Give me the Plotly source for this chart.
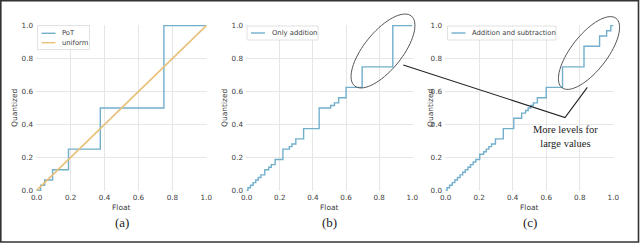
import math
import plotly.graph_objects as go

# ---- data ----
pot_x = [0, 0.0234, 0.0469, 0.0938, 0.1875, 0.375, 0.75, 1.0]
pot_y = [0, 0.03125, 0.0625, 0.125, 0.25, 0.5, 1.0, 1.0]
uni_x = [0, 1.0]
uni_y = [0, 1.0]

add_x = [0, 0.0078, 0.0234, 0.0391, 0.0547, 0.0703, 0.0859, 0.1094, 0.1328, 0.1484,
         0.1719, 0.2188, 0.2578, 0.2734, 0.2969, 0.3438, 0.4375, 0.507, 0.53, 0.555,
         0.6, 0.697, 0.882, 1.0]
add_y = [0, 0.0156, 0.0313, 0.0469, 0.0625, 0.0781, 0.0938, 0.125, 0.1406, 0.1563,
         0.1875, 0.25, 0.2656, 0.2813, 0.3125, 0.375, 0.5, 0.5156, 0.5313, 0.5625,
         0.625, 0.75, 1.0, 1.0]

sub_x = [0, 0.0078, 0.0234, 0.0391, 0.0547, 0.0703, 0.0859, 0.1016, 0.1172, 0.1328,
         0.1484, 0.1641, 0.1797, 0.2031, 0.2266, 0.2422, 0.2578, 0.2734, 0.2969, 0.3438,
         0.4063, 0.4531, 0.4766, 0.4922, 0.5078, 0.5234, 0.5469, 0.6, 0.697, 0.825,
         0.918, 0.96, 0.985, 1.0]
sub_y = [0, 0.0156, 0.0313, 0.0469, 0.0625, 0.0781, 0.0938, 0.1094, 0.125, 0.1406,
         0.1563, 0.1719, 0.1875, 0.2188, 0.2344, 0.25, 0.2656, 0.2813, 0.3125, 0.375,
         0.4375, 0.4688, 0.4844, 0.5, 0.5156, 0.5313, 0.5625, 0.625, 0.75, 0.875,
         0.9375, 0.9688, 1.0, 1.0]

tick_vals = [0, 0.2, 0.4, 0.6, 0.8, 1.0]
tick_text = ["0.0", "0.2", "0.4", "0.6", "0.8", "1.0"]
panel_labels = ["(a)", "(b)", "(c)"]
legend_names = [["PoT", "uniform"], ["Only addition"], ["Addition and subtraction"]]
x_title = "Float"
y_title = "Quantized"
note_text = "More levels for<br>large values"

W, H = 640, 244
BLUE = "#72AFCB"
ORANGE = "#E8C07A"
GRID = "#E6E6E6"
TXT = "#404040"


def px(x):
    return x / W


def py(y):
    return 1 - y / H


fig = go.Figure()
fig.add_trace(go.Scatter(x=pot_x, y=pot_y, mode="lines", line_shape="hv", name=legend_names[0][0],
                         line=dict(color=BLUE, width=1.4), xaxis="x", yaxis="y"))
fig.add_trace(go.Scatter(x=uni_x, y=uni_y, mode="lines", name=legend_names[0][1],
                         line=dict(color=ORANGE, width=1.6), xaxis="x", yaxis="y"))
fig.add_trace(go.Scatter(x=add_x, y=add_y, mode="lines", line_shape="hv", name=legend_names[1][0],
                         line=dict(color=BLUE, width=1.4), xaxis="x2", yaxis="y2"))
fig.add_trace(go.Scatter(x=sub_x, y=sub_y, mode="lines", line_shape="hv", name=legend_names[2][0],
                         line=dict(color=BLUE, width=1.4), xaxis="x3", yaxis="y3"))

xdoms = [(36, 207), (246, 413), (445, 614)]
ytitle_x = [14, 224, 430]
ydom = [py(191), py(25)]
axfont = dict(family="DejaVu Sans", size=7.2, color=TXT)
titfont = dict(family="DejaVu Sans", size=7.5, color=TXT)

layout = dict(width=W, height=H, autosize=False,
              margin=dict(l=0, r=0, t=0, b=0, autoexpand=False),
              paper_bgcolor="white", plot_bgcolor="white", showlegend=False)

annotations = []
shapes = []

for i, (x0, x1) in enumerate(xdoms):
    s = "" if i == 0 else str(i + 1)
    common = dict(range=[-0.004, 1.004], tickvals=tick_vals, ticktext=tick_text, showgrid=True,
                  gridcolor=GRID, gridwidth=1, zeroline=False, showline=False, ticks="",
                  tickfont=axfont, automargin=False)
    layout["xaxis" + s] = dict(domain=[px(x0), px(x1)], anchor="y" + s, ticklabelstandoff=1, **common)
    layout["yaxis" + s] = dict(domain=ydom, anchor="x" + s, ticklabelstandoff=2, **common)
    annotations.append(dict(x=px((x0 + x1) / 2), y=py(207), xref="paper", yref="paper",
                            text=x_title, showarrow=False, xanchor="center", yanchor="middle",
                            font=titfont))
    annotations.append(dict(x=px(ytitle_x[i]), y=py(108), xref="paper", yref="paper",
                            text=y_title, showarrow=False, xanchor="center", yanchor="middle",
                            textangle=-90, font=titfont))

# legends drawn as boxes, sample lines and text
leg_boxes = [(37.5, 89.5, 25.5, 49.5), (247, 318, 26, 40), (447.5, 556, 26, 40)]
leg_rows = [[33.3, 42.7], [33], [33]]
leg_colors = [[BLUE, ORANGE], [BLUE], [BLUE]]
for (bx0, bx1, by0, by1), rows, names, cols in zip(leg_boxes, leg_rows, legend_names, leg_colors):
    shapes.append(dict(type="rect", xref="paper", yref="paper", x0=px(bx0), x1=px(bx1),
                       y0=py(by1), y1=py(by0), fillcolor="rgba(255,255,255,0.85)",
                       line=dict(color="#DADADA", width=0.8), layer="above"))
    for ry, nm, c in zip(rows, names, cols):
        shapes.append(dict(type="line", xref="paper", yref="paper", x0=px(bx0 + 4), x1=px(bx0 + 18),
                           y0=py(ry), y1=py(ry), line=dict(color=c, width=1.4), layer="above"))
        annotations.append(dict(x=px(bx0 + 22.5), y=py(ry), xref="paper", yref="paper", text=nm,
                                showarrow=False, xanchor="left", yanchor="middle",
                                font=dict(family="DejaVu Sans", size=6.8, color=TXT)))

for lab, (x0, x1) in zip(panel_labels, xdoms):
    annotations.append(dict(x=px((x0 + x1) / 2), y=py(222), xref="paper", yref="paper",
                            text=lab, showarrow=False, xanchor="center", yanchor="middle",
                            font=dict(family="Liberation Serif", size=13, color="#222222")))
annotations.append(dict(x=px(565), y=py(136), xref="paper", yref="paper", text=note_text,
                        showarrow=False, xanchor="center", yanchor="middle", align="center",
                        font=dict(family="Liberation Serif", size=10.5, color="#222222")))
layout["annotations"] = annotations


def ellipse_path(cx, cy, a, b, deg, n=72):
    th = math.radians(deg)
    pts = []
    for k in range(n + 1):
        t = 2 * math.pi * k / n
        ex = cx + a * math.cos(t) * math.cos(th) - b * math.sin(t) * math.sin(th)
        ey = cy - (a * math.cos(t) * math.sin(th) + b * math.sin(t) * math.cos(th))
        pts.append(f"{px(ex):.5f},{py(ey):.5f}")
    return "M " + " L ".join(pts) + " Z"


shapes += [
    dict(type="path", xref="paper", yref="paper", path=ellipse_path(383, 51, 45, 19, 51),
         line=dict(color="#555555", width=1)),
    dict(type="path", xref="paper", yref="paper", path=ellipse_path(589, 53, 44, 18, 52),
         line=dict(color="#555555", width=1)),
    dict(type="path", xref="paper", yref="paper",
         path=f"M {px(403.3):.5f},{py(65):.5f} L {px(565):.5f},{py(117.5):.5f} L {px(587.3):.5f},{py(87.3):.5f}",
         line=dict(color="#222222", width=1.1)),
    dict(type="rect", xref="paper", yref="paper", x0=px(0.8), x1=px(638.5), y0=py(242), y1=py(0.8),
         line=dict(color="#333333", width=1.6)),
]
layout["shapes"] = shapes

fig.update_layout(**layout)
fig.write_html("out.html", config={"displayModeBar": False},
               post_script="document.body.style.margin='0';document.body.style.padding='0';")
